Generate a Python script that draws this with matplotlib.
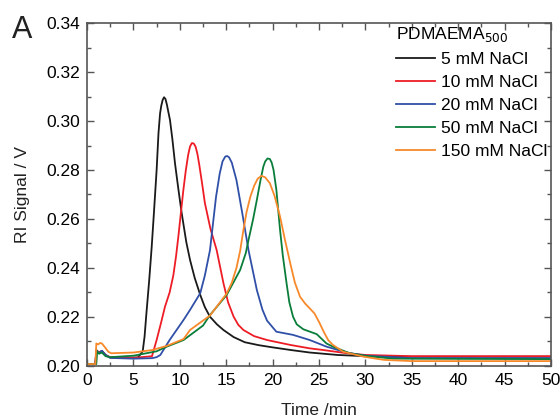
import matplotlib.pyplot as plt
from matplotlib.ticker import MultipleLocator

plt.rcParams["font.family"] = ["Liberation Sans", "DejaVu Sans"]

# Elution traces (time in min, RI signal in V)
t_5 = [0, 0.9, 1.0, 1.3, 1.6, 2.0, 2.5, 4, 5.5, 6.0, 6.2, 6.4, 6.7, 6.97, 7.2,
       7.5, 7.7, 7.87, 8.0, 8.15, 8.3, 8.45, 8.6, 8.8, 8.94, 9.2, 9.48, 9.85,
       10.2, 10.7, 11.1, 11.6, 12.2, 12.7, 13.25, 14.0, 14.7, 15.8, 17, 18.5,
       20, 22, 24, 27, 30, 35, 50]
v_5 = [0.2008, 0.2008, 0.2065, 0.2055, 0.2062, 0.2045, 0.2035, 0.2033, 0.2035,
       0.2060, 0.2120, 0.2215, 0.2350, 0.2487, 0.2620, 0.2800, 0.2950, 0.3031,
       0.3062, 0.3086, 0.3097, 0.3090, 0.3068, 0.3030, 0.3004, 0.2925, 0.2827,
       0.2720, 0.2624, 0.2505, 0.2433, 0.2360, 0.2290, 0.2240, 0.2201, 0.2170,
       0.2147, 0.2118, 0.2097, 0.2085, 0.2076, 0.2065, 0.2055, 0.2045, 0.2040,
       0.2038, 0.2038]

t_10 = [0, 0.9, 1.0, 1.3, 1.6, 2.0, 2.5, 5, 7.0, 7.5, 8.0, 8.4, 8.9, 9.3, 9.6,
        9.84, 10.1, 10.38, 10.65, 10.9, 11.1, 11.3, 11.5, 11.7, 11.9, 12.1,
        12.4, 12.7, 13.3, 13.97, 14.7, 15.2, 15.8, 16.3, 16.85, 18, 19.4, 21.9,
        24, 25.5, 28, 30, 35, 50]
v_10 = [0.2008, 0.2008, 0.2062, 0.2055, 0.2060, 0.2045, 0.2035, 0.2033, 0.2040,
        0.2106, 0.2180, 0.2242, 0.2300, 0.2370, 0.2450, 0.2528, 0.2620, 0.2718,
        0.2800, 0.2862, 0.2896, 0.2910, 0.2908, 0.2895, 0.2865, 0.2820, 0.2745,
        0.2665, 0.2560, 0.2473, 0.2338, 0.2260, 0.2201, 0.2168, 0.2147, 0.2122,
        0.2106, 0.2086, 0.2072, 0.2065, 0.2052, 0.2045, 0.2040, 0.2040]

t_20 = [0, 0.9, 1.0, 1.3, 1.6, 2.0, 2.5, 5, 7.0, 7.5, 7.9, 8.9, 10.4, 11.1,
        12.2, 12.7, 13.25, 13.6, 13.9, 14.3, 14.6, 14.9, 15.1, 15.3, 15.6,
        16.1, 16.7, 17.4, 18.3, 18.9, 19.4, 20.4, 22.2, 24, 25.8, 28, 30, 35,
        50]
v_20 = [0.2008, 0.2008, 0.2062, 0.2052, 0.2062, 0.2045, 0.2033, 0.2030, 0.2032,
        0.2036, 0.2045, 0.2106, 0.2188, 0.2229, 0.2297, 0.2370, 0.2473, 0.2590,
        0.2690, 0.2786, 0.2835, 0.2855, 0.2857, 0.2852, 0.2830, 0.2759, 0.2630,
        0.2473, 0.2310, 0.2230, 0.2185, 0.2140, 0.2127, 0.2106, 0.2079, 0.2055,
        0.2042, 0.2032, 0.2032]

t_50 = [0, 1.0, 1.1, 1.3, 1.6, 2.0, 2.5, 5, 7.5, 8.6, 10.4, 12.5, 13.25, 15.05,
        16.5, 17.1, 17.4, 17.9, 18.3, 18.7, 19.0, 19.2, 19.45, 19.7, 19.9, 20.1,
        20.4, 20.8, 21.1, 21.5, 21.8, 22.2, 22.6, 23.3, 24.75, 25.8, 26.5, 28.3,
        30.1, 33, 50]
v_50 = [0.2008, 0.2008, 0.2060, 0.2050, 0.2055, 0.2040, 0.2036, 0.2042, 0.2060,
        0.2079, 0.2106, 0.2165, 0.2208, 0.2290, 0.2392, 0.2460, 0.2514, 0.2600,
        0.2678, 0.2760, 0.2814, 0.2835, 0.2847, 0.2845, 0.2830, 0.2800, 0.2720,
        0.2555, 0.2450, 0.2338, 0.2260, 0.2201, 0.2170, 0.2150, 0.2130, 0.2092,
        0.2079, 0.2052, 0.2041, 0.2030, 0.2028]

t_150 = [0, 0.9, 1.0, 1.2, 1.4, 1.6, 1.9, 2.3, 2.6, 5, 7.0, 8.6, 10.4, 11.1,
         13.25, 15.05, 15.6, 16.1, 16.5, 16.85, 17.2, 17.6, 18.0, 18.4, 18.8,
         19.2, 19.7, 20.2, 20.8, 21.3, 21.9, 22.4, 22.95, 23.5, 24.0, 24.5,
         25.0, 25.5, 26.0, 26.5, 27.6, 29.8, 32, 35, 50]
v_150 = [0.2008, 0.2008, 0.2092, 0.2088, 0.2094, 0.2092, 0.2078, 0.2058, 0.2052,
         0.2055, 0.2065, 0.2082, 0.2110, 0.2147, 0.2206, 0.2296, 0.2340, 0.2400,
         0.2470, 0.2555, 0.2630, 0.2691, 0.2735, 0.2765, 0.2776, 0.2770, 0.2746,
         0.2695, 0.2610, 0.2520, 0.2419, 0.2340, 0.2283, 0.2255, 0.2235, 0.2215,
         0.2180, 0.2140, 0.2105, 0.2086, 0.2058, 0.2038, 0.2025, 0.2020, 0.2020]

labels = ["5 mM NaCl", "10 mM NaCl", "20 mM NaCl", "50 mM NaCl", "150 mM NaCl"]
colors = ["#1a1a1a", "#ee1c25", "#3050a8", "#0a7d3a", "#f7892b"]

fig = plt.figure(figsize=(5.6, 4.19), dpi=100)
ax = fig.add_axes([0.1554, 0.1265, 0.8286, 0.8186])

series = [(t_5, v_5), (t_10, v_10), (t_20, v_20), (t_50, v_50), (t_150, v_150)]
for (t, v), lab, c in zip(series, labels, colors):
    ax.plot(t, v, color=c, lw=1.3, label=lab)

ax.set_xlim(0, 50)
ax.set_ylim(0.20, 0.34)
ax.xaxis.set_major_locator(MultipleLocator(5))
ax.xaxis.set_minor_locator(MultipleLocator(2.5))
ax.yaxis.set_major_locator(MultipleLocator(0.02))
ax.yaxis.set_minor_locator(MultipleLocator(0.01))
ax.yaxis.set_major_formatter(lambda y, pos: f"{y:.2f}")
ax.tick_params(which="both", direction="in", top=True, right=True,
               color="#555555", labelsize=12.5, pad=5)
ax.tick_params(which="major", length=5, width=1)
ax.tick_params(which="minor", length=3, width=1)
for s in ax.spines.values():
    s.set_color("#555555")
    s.set_linewidth(1.2)

ax.set_xlabel("Time /min", fontsize=12.5, color="#222222", labelpad=11)
ax.set_ylabel("RI Signal / V", fontsize=12.5, color="#222222", labelpad=12)

leg = ax.legend(title="PDMAEMA$_{500}$", frameon=False, loc="upper right",
                fontsize=12.5, title_fontsize=12.5, handlelength=2.3,
                handletextpad=0.3, labelspacing=0.45,
                bbox_to_anchor=(1.025, 1.04))
leg._legend_box.align = "left"

fig.text(0.022, 0.91, "A", fontsize=22, color="#222222")

fig.savefig("out.png", dpi=100)
